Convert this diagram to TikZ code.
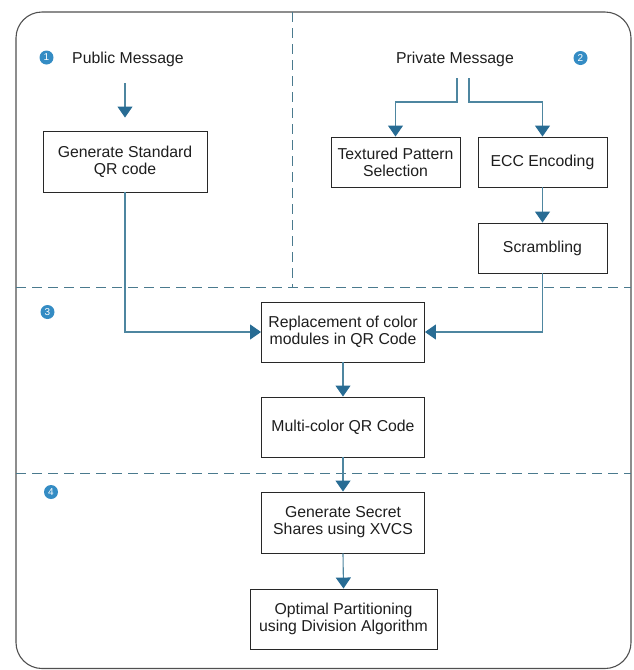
\documentclass[tikz,border=0pt]{standalone}
\usepackage{fontspec}
\setmainfont{Liberation Sans}
\usetikzlibrary{arrows.meta}
\definecolor{arrc}{RGB}{78,134,160}
\definecolor{headc}{RGB}{40,108,148}
\definecolor{dashc}{RGB}{74,122,142}
\definecolor{badgec}{RGB}{52,140,196}
\definecolor{boxc}{RGB}{40,40,40}
\definecolor{framec}{RGB}{80,80,80}
\definecolor{txtc}{RGB}{30,30,30}
\tikzset{
  stepbox/.style={draw=boxc, line width=0.9pt, align=center, inner sep=0pt, text=txtc,
    font=\fontsize{15.8}{17}\selectfont},
  lbl/.style={inner sep=0pt, text=txtc, font=\fontsize{15.8}{17}\selectfont},
  badge/.style={circle, fill=badgec, text=white, inner sep=0pt, minimum size=14pt,
    font=\fontsize{10}{10}\selectfont},
  conn/.style={draw=arrc, line width=1.1pt, -{Triangle[width=15pt,length=11pt,color=headc]}},
  sep/.style={draw=dashc, line width=1pt, dash pattern=on 10pt off 6pt},
}
\begin{document}
\begin{tikzpicture}[x=1pt,y=-1pt]
\useasboundingbox (0,0) rectangle (633,670);
% frame
\draw[framec, line width=1.1pt, rounded corners=26pt] (16,12) rectangle (631,668.5);
% separators
\draw[sep] (292,12) -- (292,287);
\draw[sep] (16,287) -- (631,287);
\draw[sep] (16,473) -- (631,473);
% badges
\node[badge] (b1) at (46.5,57.5) {1};
\node[badge] (b2) at (580.5,58) {2};
\node[badge] (b3) at (47.5,312) {3};
\node[badge] (b4) at (51,492) {4};
% labels
\node[lbl] (pub) at (128,59) {Public Message};
\node[lbl] (priv) at (455,59) {Private Message};
% boxes
\node[stepbox, minimum width=164pt, minimum height=61pt] (genstd) at (125,161.5) {Generate Standard\\QR code};
\node[stepbox, minimum width=129pt, minimum height=50pt] (textured) at (395.5,162) {Textured Pattern\\Selection};
\node[stepbox, minimum width=129pt, minimum height=50pt] (ecc) at (542.5,162) {ECC Encoding};
\node[stepbox, minimum width=129pt, minimum height=50pt] (scramble) at (542.5,248) {Scrambling};
\node[stepbox, minimum width=163pt, minimum height=60pt] (replace) at (343,332) {Replacement of color\\modules in QR Code};
\node[stepbox, minimum width=163pt, minimum height=60pt] (multi) at (343,427) {Multi-color QR Code};
\node[stepbox, minimum width=163pt, minimum height=61pt] (secret) at (343,522.5) {Generate Secret\\Shares using XVCS};
\node[stepbox, minimum width=187pt, minimum height=60pt] (optimal) at (343.5,619) {Optimal Partitioning\\using Division Algorithm};
% helper coordinates
\coordinate (p1) at (457,78);
\coordinate (p2) at (469,78);
\coordinate (jy) at (0,102);
\coordinate (pa) at (125,83);
% connectors
\draw[conn, shorten >=13pt] (pa) -- (genstd.north);
\draw[conn] (p1) -- (p1 |- jy) -| (textured.north);
\draw[conn] (p2) -- (p2 |- jy) -| (ecc.north);
\draw[conn] (ecc.south) -- (scramble.north);
\draw[conn] (genstd.south) |- (replace.west);
\draw[conn] (scramble.south) |- (replace.east);
\draw[conn] (replace.south) -- (multi.north);
\draw[conn] (multi.south) -- (secret.north);
\draw[conn] (secret.south) -- (optimal.north);
\end{tikzpicture}
\end{document}
